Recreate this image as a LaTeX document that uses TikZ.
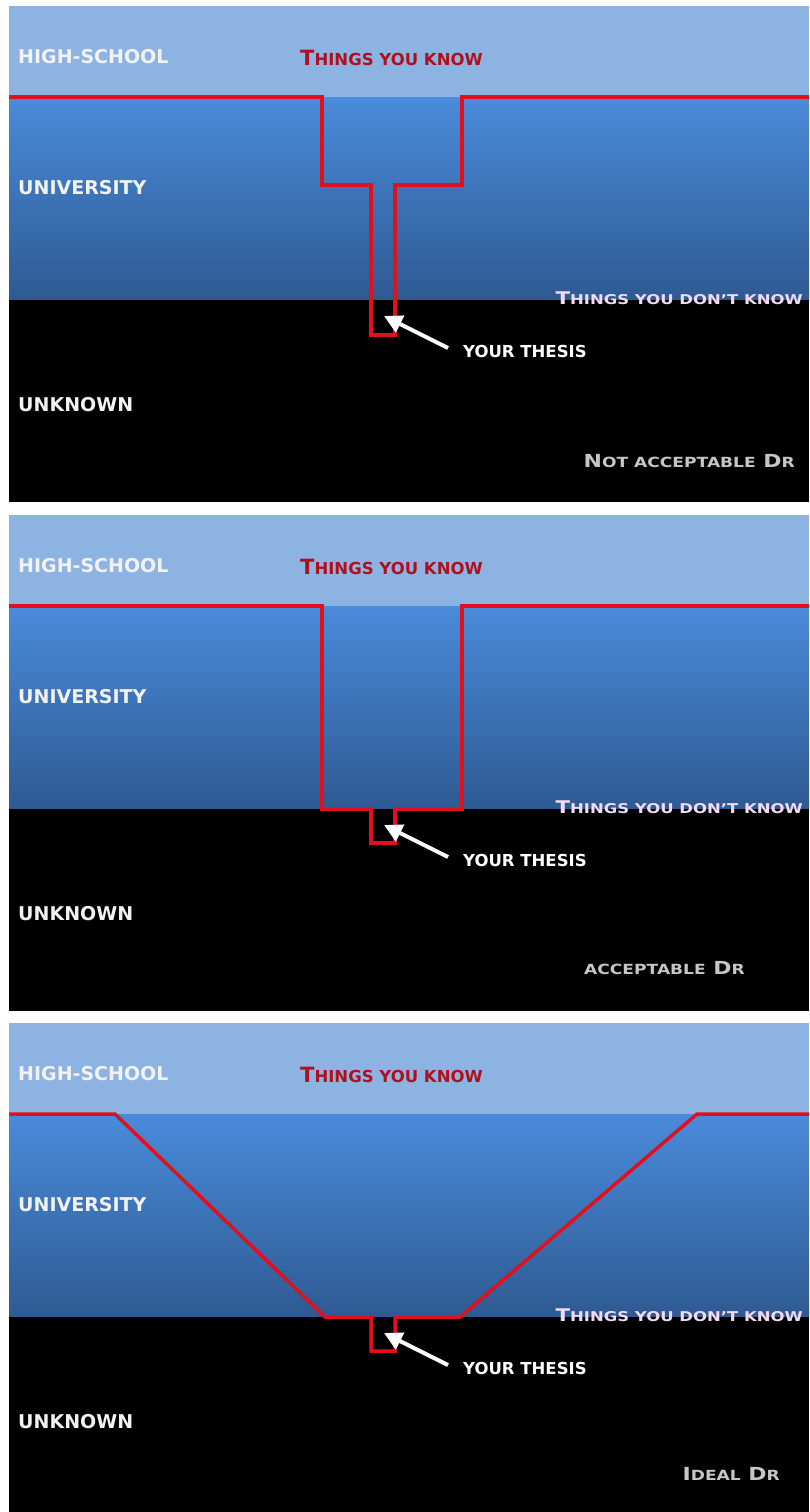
\documentclass[tikz,border=0pt]{standalone}
\usepackage{fontspec}
\setmainfont{DejaVu Sans}
\newfontfamily\lblfont{DejaVu Sans Bold}
\newfontfamily\widefont[FakeStretch=1.22]{DejaVu Sans Bold}
\usetikzlibrary{arrows.meta}
\newcommand{\smallcapsat}[2]{{\fontsize{#1}{#1}\selectfont #2}}
\definecolor{band}{HTML}{8DB3E2}
\definecolor{unitop}{HTML}{4A8BDA}
\definecolor{unibot}{HTML}{2E5A92}
\definecolor{redline}{HTML}{E2101A}
\definecolor{redtext}{HTML}{B0101E}
\definecolor{pinktext}{HTML}{F2DAF4}
\definecolor{greytext}{HTML}{C6C6C6}
\begin{document}
\begin{tikzpicture}[x=1pt,y=-1pt,
  lbl/.style={inner sep=0pt, text depth=0pt, anchor=west, text=white!95!black, font=\lblfont\fontsize{19}{19}\selectfont},
  thesislbl/.style={inner sep=0pt, text depth=0pt, anchor=west, text=white, font=\lblfont\fontsize{16.5}{16.5}\selectfont},
  knowlbl/.style={inner sep=0pt, text depth=0pt, anchor=west, text=redtext, font=\lblfont\fontsize{21}{21}\selectfont},
  dontlbl/.style={inner sep=0pt, text depth=0pt, anchor=east, text=pinktext, font=\widefont\fontsize{17.5}{17.5}\selectfont},
  drlbl/.style={inner sep=0pt, text depth=0pt, anchor=east, text=greytext, font=\widefont\fontsize{18}{18}\selectfont},
  redpath/.style={draw=redline, line width=3.5pt, line join=miter},
  pointer/.style={draw=white, line width=4pt, -{Triangle[length=18pt,width=18pt]}}]
\useasboundingbox (0,0) rectangle (809,1512);
\fill[white] (0,0) rectangle (809,1512);
% panel backgrounds
\foreach \t/\b in {6/502, 515/1011, 1023/1512}{
  \fill[band] (9,\t) rectangle (809,\t+91);
  \shade[top color=unitop, bottom color=unibot] (9,\t+91) rectangle (809,\t+294);
  \fill[black] (9,\t+294) rectangle (809,\b);
}
% labels common to all panels
\foreach \i/\t in {1/6, 2/515, 3/1023}{
  \begin{scope}[yshift=-\t pt]
  \node[lbl] (hs\i) at (18,50) {HIGH-SCHOOL};
  \node[knowlbl] (know\i) at (300,52) {T\smallcapsat{16.5}{HINGS YOU KNOW}};
  \node[lbl] (uni\i) at (18,181) {UNIVERSITY};
  \node[dontlbl] (dont\i) at (803,292) {T\smallcapsat{13.5}{HINGS YOU DON’T KNOW}};
  \node[lbl] (unk\i) at (18,398) {UNKNOWN};
  \node[thesislbl] (thesis\i) at (463,345) {YOUR THESIS};
  \coordinate (tail\i) at (448,342);
  \coordinate (tip\i) at (384,310);
  \end{scope}
}
% red outlines
\draw[redpath] (9,97) -- (322,97) -- (322,185) -- (371,185) -- (371,335) -- (395,335) -- (395,185) -- (462,185) -- (462,97) -- (809,97);
\draw[redpath] (9,606) -- (322,606) -- (322,809) -- (371,809) -- (371,843) -- (395,843) -- (395,809) -- (462,809) -- (462,606) -- (809,606);
\draw[redpath] (9,1114) -- (115,1114) -- (325,1317) -- (371,1317) -- (371,1351) -- (395,1351) -- (395,1317) -- (460,1317) -- (697,1114) -- (809,1114);
% pointers
\foreach \i in {1,2,3}{
  \draw[pointer] (tail\i) -- (tip\i);
}
% bottom labels
\node[drlbl] (dr1) at (795,461) {N\smallcapsat{14}{OT ACCEPTABLE} D\smallcapsat{14}{R}};
\node[drlbl] (dr2) at (745,968) {\smallcapsat{14}{ACCEPTABLE} D\smallcapsat{14}{R}};
\node[drlbl] (dr3) at (780,1474) {I\smallcapsat{14}{DEAL} D\smallcapsat{14}{R}};
\end{tikzpicture}
\end{document}
